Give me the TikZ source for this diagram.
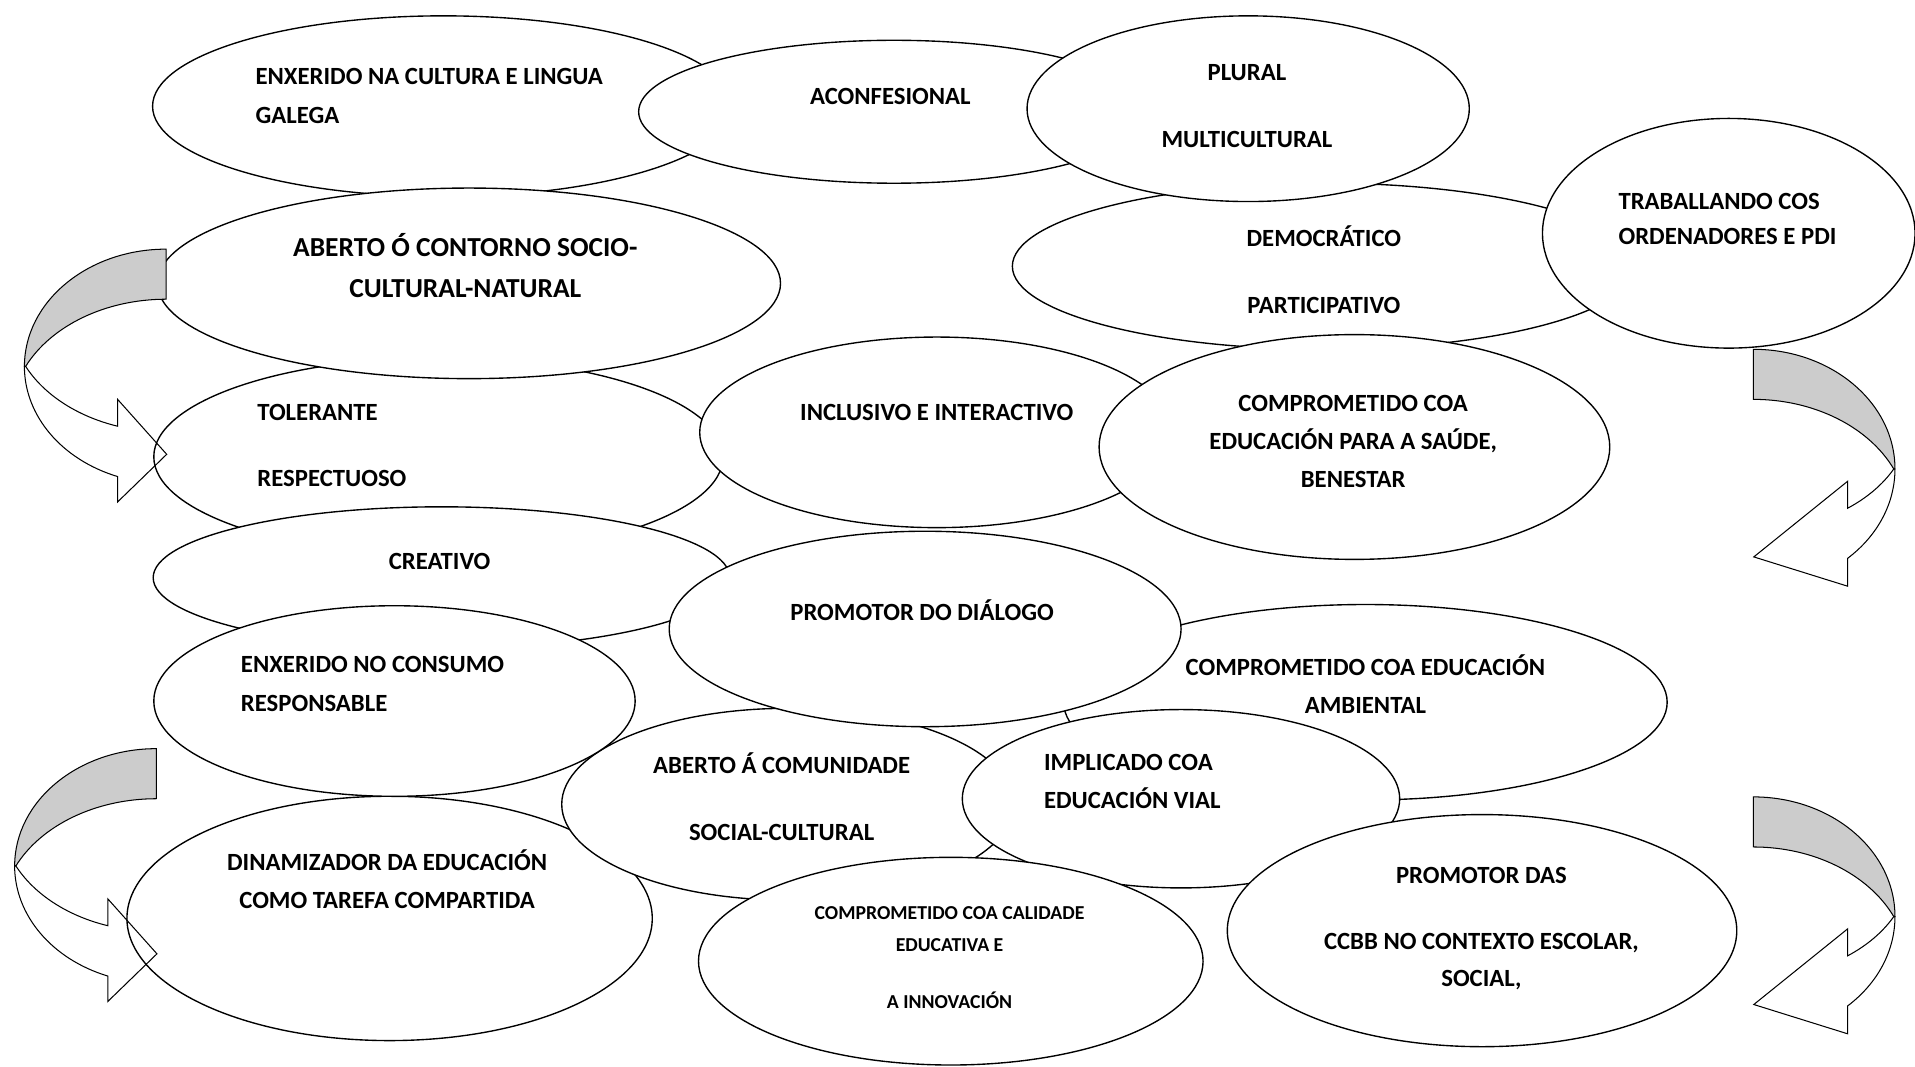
\documentclass[tikz,border=0pt]{standalone}
\usepackage{fontspec}
\setmainfont{Carlito}
\usetikzlibrary{shapes.geometric}
\definecolor{backgray}{RGB}{204,204,204}

\begin{document}
\begin{tikzpicture}[
        %Environment config
        x=0.025cm, y=-0.025cm,
        font=\fontsize{14.4}{22.4}\selectfont\bfseries,
        %Environment styles
        BubbleCfg/.style={
            ellipse,
            draw,
            line width=0.8pt,
            fill=white,
            inner sep=0pt
        },
        SizeCfg/.style 2 args={
            minimum width=#1*0.05cm,
            minimum height=#2*0.05cm
        },
        TextCfg/.style={
            inner sep=0pt,
            align=center
        },
        BackCfg/.style={draw, line width=0.6pt, fill=backgray},
        FrontCfg/.style={draw, line width=0.6pt}
    ]
    \useasboundingbox (0,0) rectangle (1568,873);

    %Ellipses, back to front
    \path
        (359,374) node[BubbleCfg,SizeCfg={233}{81}](TOLER){}
        (363,87) node[BubbleCfg,SizeCfg={238}{74}](GALEGA){}
        (384,232) node[BubbleCfg,SizeCfg={255}{78}](CONTORNO){}
        (732,91.5) node[BubbleCfg,SizeCfg={209}{58.5}](ACONF){}
        (1084,218) node[BubbleCfg,SizeCfg={255}{68}](DEMOC){}
        (1022,89) node[BubbleCfg,SizeCfg={181}{76}](PLURAL){}
        (1415.5,191) node[BubbleCfg,SizeCfg={152.5}{94}](TIC){}
        (767,354) node[BubbleCfg,SizeCfg={194}{78}](INCLU){}
        (1109,366) node[BubbleCfg,SizeCfg={209}{92}](SAUDE){}
        (361.5,473) node[BubbleCfg,SizeCfg={236}{58}](CREAT){}
        (319,752) node[BubbleCfg,SizeCfg={215}{100}](DINAM){}
        (645,658.5) node[BubbleCfg,SizeCfg={185}{78.5}](COMUN){}
        (1118,575) node[BubbleCfg,SizeCfg={247}{80}](AMBIENT){}
        (757.5,515) node[BubbleCfg,SizeCfg={209.5}{80}](DIALOGO){}
        (323,574) node[BubbleCfg,SizeCfg={197}{78}](CONSUMO){}
        (967,654) node[BubbleCfg,SizeCfg={179}{73}](VIAL){}
        (778.5,787) node[BubbleCfg,SizeCfg={206.5}{85}](CALID){}
        (1213.5,762) node[BubbleCfg,SizeCfg={208.5}{95}](CCBB){};

    %Texts
    \path
        (209,78.4) node[TextCfg,anchor=west,align=left](GALEGA-T){ENXERIDO NA CULTURA E LINGUA\\GALEGA}
        (729,79) node[TextCfg](ACONF-T){ACONFESIONAL}
        (1021,86.6) node[TextCfg](PLURAL-T){PLURAL\\[16.4pt]MULTICULTURAL}
        (381,217.6) node[TextCfg,font=\fontsize{16}{24.2}\selectfont\bfseries](CONTORNO-T){ABERTO Ó CONTORNO SOCIO-\\CULTURAL-NATURAL}
        (1084,221) node[TextCfg](DEMOC-T){DEMOCRÁTICO\\[16.4pt]PARTICIPATIVO}
        (1325,179.4) node[TextCfg,anchor=west,align=left](TIC-T){TRABALLANDO COS\\[-1.9pt]ORDENADORES E PDI}
        (210.5,364.8) node[TextCfg,anchor=west,align=left](TOLER-T){TOLERANTE\\[15.7pt]RESPECTUOSO}
        (767,338) node[TextCfg](INCLU-T){INCLUSIVO E INTERACTIVO}
        (1108,361.5) node[TextCfg](SAUDE-T){COMPROMETIDO COA\\EDUCACIÓN PARA A SAÚDE,\\BENESTAR}
        (360,460) node[TextCfg](CREAT-T){CREATIVO}
        (755,499.5) node[TextCfg](DIALOGO-T){PROMOTOR DO DIÁLOGO}
        (197,560) node[TextCfg,anchor=west,align=left](CONSUMO-T){ENXERIDO NO CONSUMO\\RESPONSABLE}
        (1118,560) node[TextCfg](AMBIENT-T){COMPROMETIDO COA EDUCACIÓN\\AMBIENTAL}
        (640,652.3) node[TextCfg](COMUN-T){ABERTO Á COMUNIDADE\\[16.4pt]SOCIAL-CULTURAL}
        (854.6,640) node[TextCfg,anchor=west,align=left](VIAL-T){IMPLICADO COA\\EDUCACIÓN VIAL}
        (317,719.8) node[TextCfg](DINAM-T){DINAMIZADOR DA EDUCACIÓN\\COMO TAREFA COMPARTIDA}
        (777.5,784) node[TextCfg,font=\fontsize{11.5}{18.5}\selectfont\bfseries](CALID-T){COMPROMETIDO COA CALIDADE\\EDUCATIVA E\\[14.4pt]A INNOVACIÓN}
        (1213,760.1) node[TextCfg](CCBB-T){PROMOTOR DAS\\[16.4pt]CCBB NO CONTEXTO ESCOLAR,\\[-1.1pt]SOCIAL,};

    %Curved arrows, left side
    \draw[BackCfg] (136,204) arc[start angle=-90, end angle=-180, x radius=116, y radius=96]
        -- (21,300) arc[start angle=-154.72, end angle=-90, x radius=127.18, y radius=96] -- cycle;
    \draw[FrontCfg] (21,300) arc[start angle=154.34, end angle=108.13, x radius=127.58, y radius=94.70]
        -- (96.3,327) -- (136.5,372) -- (96.3,411) -- (96.3,390.2)
        arc[start angle=110, end angle=180, x radius=116, y radius=96] -- cycle;
    \begin{scope}[shift={(-8,409)}]
        \draw[BackCfg] (136,204) arc[start angle=-90, end angle=-180, x radius=116, y radius=96]
            -- (21,300) arc[start angle=-154.72, end angle=-90, x radius=127.18, y radius=96] -- cycle;
        \draw[FrontCfg] (21,300) arc[start angle=154.34, end angle=108.13, x radius=127.58, y radius=94.70]
            -- (96.3,327) -- (136.5,372) -- (96.3,411) -- (96.3,390.2)
            arc[start angle=110, end angle=180, x radius=116, y radius=96] -- cycle;
    \end{scope}

    %Curved arrows, right side
    \draw[BackCfg] (1435.6,286) arc[start angle=-90, end angle=0, x radius=116, y radius=98]
        -- (1550.6,384) arc[start angle=-24.73, end angle=-90, x radius=126.6, y radius=98] -- cycle;
    \draw[FrontCfg] (1550.6,384) arc[start angle=26.64, end angle=53.07, x radius=128.65, y radius=91.45]
        -- (1512.9,394) -- (1436,456) -- (1512.9,480) -- (1512.9,457.1)
        arc[start angle=48.2, end angle=0, x radius=116, y radius=98] -- cycle;
    \begin{scope}[shift={(0,366.5)}]
        \draw[BackCfg] (1435.6,286) arc[start angle=-90, end angle=0, x radius=116, y radius=98]
            -- (1550.6,384) arc[start angle=-24.73, end angle=-90, x radius=126.6, y radius=98] -- cycle;
        \draw[FrontCfg] (1550.6,384) arc[start angle=26.64, end angle=53.07, x radius=128.65, y radius=91.45]
            -- (1512.9,394) -- (1436,456) -- (1512.9,480) -- (1512.9,457.1)
            arc[start angle=48.2, end angle=0, x radius=116, y radius=98] -- cycle;
    \end{scope}
\end{tikzpicture}
\end{document}
